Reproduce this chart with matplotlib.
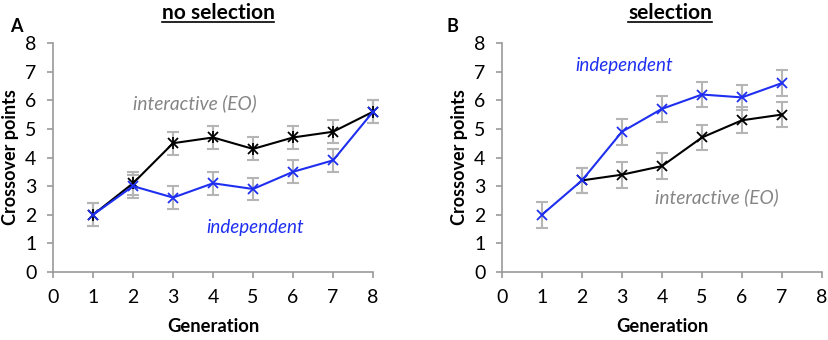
import matplotlib
matplotlib.use("Agg")
import matplotlib.pyplot as plt
import numpy as np

plt.rcParams['font.family'] = ['Lato', 'DejaVu Sans']

# Panel A: no selection
gen_a = [1, 2, 3, 4, 5, 6, 7, 8]
a_interactive = [2.0, 3.1, 4.5, 4.7, 4.3, 4.7, 4.9, 5.6]
a_interactive_err = [0.4, 0.4, 0.4, 0.4, 0.4, 0.4, 0.4, 0.4]
a_independent = [2.0, 3.0, 2.6, 3.1, 2.9, 3.5, 3.9, 5.6]
a_independent_err = [0.4, 0.4, 0.4, 0.4, 0.4, 0.4, 0.4, 0.4]

# Panel B: selection
gen_b_ind = [1, 2, 3, 4, 5, 6, 7]
b_independent = [2.0, 3.2, 4.9, 5.7, 6.2, 6.1, 6.6]
b_independent_err = [0.45, 0.45, 0.45, 0.45, 0.45, 0.45, 0.45]
gen_b_int = [2, 3, 4, 5, 6, 7]
b_interactive = [3.2, 3.4, 3.7, 4.7, 5.3, 5.5]
b_interactive_err = [0.45, 0.45, 0.45, 0.45, 0.45, 0.45]

ticks = [0, 1, 2, 3, 4, 5, 6, 7, 8]

BLUE = '#1f2ff0'
ERR = '#b5b5b5'
AXC = '#9a9a9a'
GRAYTXT = '#858585'

fig = plt.figure(figsize=(8.29, 3.4), dpi=100)
axA = fig.add_axes([0.064, 0.2, 0.386, 0.6735])
axB = fig.add_axes([0.6055, 0.2, 0.386, 0.6735])

def style(ax):
    ax.set_xlim(0, 8)
    ax.set_ylim(0, 8)
    ax.set_xticks(ticks)
    ax.set_yticks(ticks)
    for s in ['top', 'right']:
        ax.spines[s].set_visible(False)
    for s in ['left', 'bottom']:
        ax.spines[s].set_color(AXC)
        ax.spines[s].set_linewidth(1.2)
    ax.tick_params(axis='both', colors=AXC, labelcolor='black', labelsize=14,
                   length=4, width=1.2, direction='out')
    ax.tick_params(axis='x', pad=8)
    ax.tick_params(axis='y', pad=8)
    ax.set_xlabel('Generation', fontsize=13.2, fontweight='bold', labelpad=9)
    ax.set_ylabel('Crossover points', fontsize=13, fontweight='bold', labelpad=4)

def series(ax, x, y, err, color, star):
    ax.errorbar(x, y, yerr=err, fmt='none', ecolor=ERR, elinewidth=1.5,
                capsize=4, capthick=1.5, zorder=2, clip_on=False)
    ax.plot(x, y, color=color, lw=1.5, marker='x', ms=7, mew=1.3, zorder=3,
            clip_on=False)
    if star:
        ax.plot(x, y, linestyle='none', color=color, marker='|', ms=8,
                mew=1.3, zorder=3, clip_on=False)

style(axA)
series(axA, gen_a, a_interactive, a_interactive_err, 'black', True)
series(axA, gen_a, a_independent, a_independent_err, BLUE, False)
axA.text(3.55, 5.9, 'interactive (EO)', color=GRAYTXT, fontsize=13.8,
         style='italic', ha='center', va='center')
axA.text(5.05, 1.57, 'independent', color=BLUE, fontsize=13.5,
         style='italic', ha='center', va='center')

style(axB)
series(axB, gen_b_int, b_interactive, b_interactive_err, 'black', False)
series(axB, gen_b_ind, b_independent, b_independent_err, BLUE, False)
axB.text(3.05, 7.2, 'independent', color=BLUE, fontsize=13.5,
         style='italic', ha='center', va='center')
axB.text(5.37, 2.6, 'interactive (EO)', color=GRAYTXT, fontsize=13.8,
         style='italic', ha='center', va='center')

# titles (bold, underlined)
def utitle(xc, text):
    t = fig.text(xc, 0.962, text, fontsize=15, fontweight='bold',
                 ha='center', va='center')
    fig.canvas.draw()
    bb = t.get_window_extent()
    inv = fig.transFigure.inverted()
    (x0, y0), (x1, y1) = inv.transform([[bb.x0, bb.y0], [bb.x1, bb.y1]])
    fig.add_artist(plt.Line2D([x0, x1], [y0 + 0.003, y0 + 0.003],
                              transform=fig.transFigure, color='black', lw=1.2))

utitle(218 / 829, 'no selection')
utitle(670 / 829, 'selection')

fig.text(10 / 829, 1 - 27 / 340, 'A', fontsize=13, fontweight='bold',
         ha='left', va='center')
fig.text(452 / 829, 1 - 27 / 340, 'B', fontsize=13, fontweight='bold',
         ha='center', va='center')

fig.savefig('out.png', dpi=100)
